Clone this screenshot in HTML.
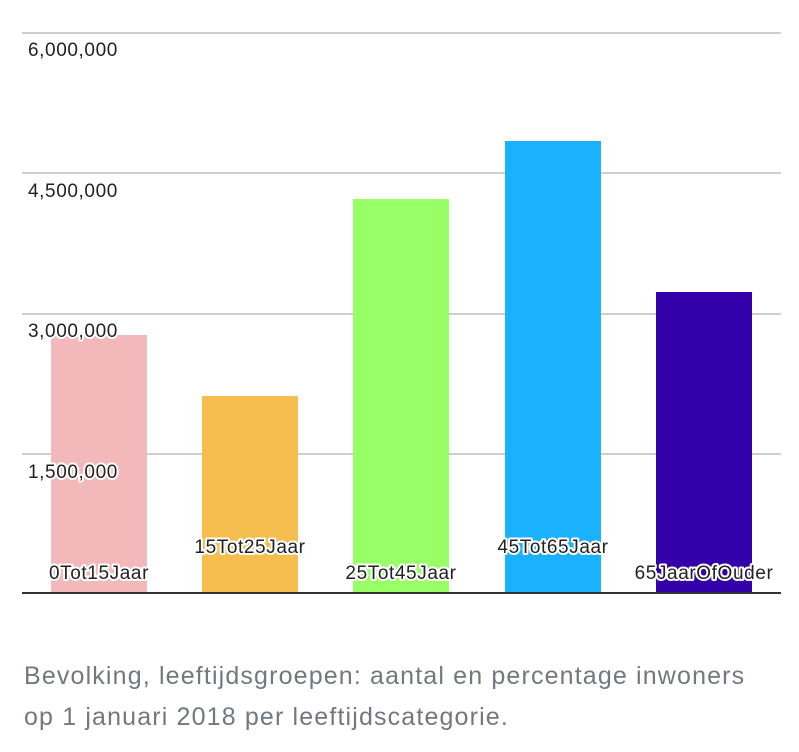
<!DOCTYPE html>
<html><head><meta charset="utf-8"><style>
body{margin:0;background:#fff;width:799px;height:752px;overflow:hidden;font-family:"Liberation Sans",sans-serif}
.cap{position:absolute;left:24px;top:656px;font-size:25px;letter-spacing:1.15px;line-height:41px;color:#737780;white-space:nowrap}
svg text{font-family:"Liberation Sans",sans-serif;font-size:19px;letter-spacing:0.6px;fill:#222;paint-order:stroke;stroke:#fff;stroke-width:4px;stroke-linejoin:round}
</style></head><body>
<svg width="799" height="640" style="position:absolute;left:0;top:0">
<g stroke="#cfcfd2" stroke-width="2">
<line x1="22" y1="33" x2="781" y2="33"/><line x1="22" y1="173" x2="781" y2="173"/>
<line x1="22" y1="314" x2="781" y2="314"/><line x1="22" y1="454" x2="781" y2="454"/>
</g>
<rect x="51" y="335" width="96" height="258" fill="#f3b8b9"/>
<rect x="202" y="396" width="96" height="197" fill="#f6be4f"/>
<rect x="353" y="199" width="96" height="394" fill="#99ff66"/>
<rect x="505" y="141" width="96" height="452" fill="#1ab2ff"/>
<rect x="656" y="292" width="96" height="301" fill="#3300aa"/>
<line x1="22" y1="593" x2="781" y2="593" stroke="#333" stroke-width="2"/>
<text x="28" y="56">6,000,000</text>
<text x="28" y="197">4,500,000</text>
<text x="28" y="337">3,000,000</text>
<text x="28" y="478">1,500,000</text>
<text x="99" y="579" text-anchor="middle">0Tot15Jaar</text>
<text x="250" y="553" text-anchor="middle">15Tot25Jaar</text>
<text x="401" y="579" text-anchor="middle">25Tot45Jaar</text>
<text x="553" y="553" text-anchor="middle">45Tot65Jaar</text>
<text x="704" y="579" text-anchor="middle">65JaarOfOuder</text>
</svg>
<div class="cap">Bevolking, leeftijdsgroepen: aantal en percentage inwoners<br>op 1 januari 2018 per leeftijdscategorie.</div>
</body></html>
